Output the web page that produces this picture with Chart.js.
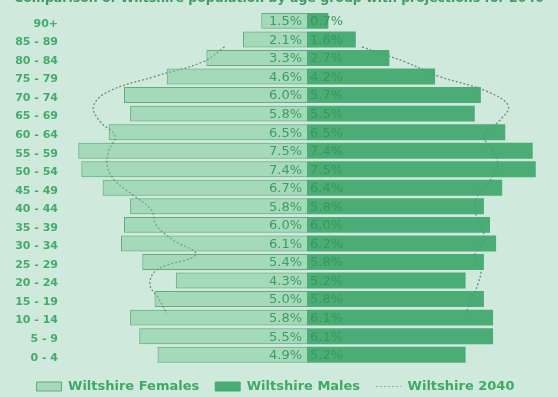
<!DOCTYPE html>
<html>
<head>
<meta charset="utf-8">
<script src="https://cdn.jsdelivr.net/npm/chart.js@4.4.1/dist/chart.umd.min.js"></script>
<style>
  html, body { margin: 0; padding: 0; background: #cfe9dc; }
  #wrap { width: 558px; height: 397px; position: relative; }
</style>
</head>
<body>
<div id="wrap"><canvas id="c"></canvas></div>
<script>
const titleText = 'Comparison of Wiltshire population by age group with projections for 2040';
const ageGroups = ['90+','85 - 89','80 - 84','75 - 79','70 - 74','65 - 69','60 - 64','55 - 59','50 - 54','45 - 49','40 - 44','35 - 39','30 - 34','25 - 29','20 - 24','15 - 19','10 - 14','5 - 9','0 - 4'];
const femalesPct = [1.5,2.1,3.3,4.6,6.0,5.8,6.5,7.5,7.4,6.7,5.8,6.0,6.1,5.4,4.3,5.0,5.8,5.5,4.9];
const malesPct   = [0.7,1.6,2.7,4.2,5.7,5.5,6.5,7.4,7.5,6.4,5.8,6.0,6.2,5.8,5.2,5.8,6.1,6.1,5.2];
const females2040 = [2.7,3.4,5.0,6.5,7.0,6.8,6.3,6.5,6.55,6.3,5.7,5.1,4.95,4.4,3.65,4.9,5.15,4.85,4.6];
const males2040   = [1.8,3.2,4.35,5.9,6.6,6.3,5.8,6.1,6.25,6.0,5.6,5.5,5.7,5.8,5.5,5.7,5.6,5.4,5.2];
const seriesNames = ['Wiltshire Females','Wiltshire Males','Wiltshire 2040'];

const FONT = "'DejaVu Sans', sans-serif";
const labelGreen = '#45ab6a';

const femaleData = femalesPct.map(v => -v);
const maleData = malesPct.map(v => v);
const f2040 = females2040.map((v, i) => ({ x: -v, y: i - 0.5 }));
const m2040 = males2040.map((v, i) => ({ x: v, y: i - 0.5 }));

const valueLabels = {
  id: 'valueLabels',
  afterDatasetsDraw(chart) {
    const ctx = chart.ctx;
    ctx.save();
    ctx.font = "13px " + FONT;
    ctx.textBaseline = 'middle';
    const fm = chart.getDatasetMeta(0);
    fm.data.forEach((el, i) => {
      ctx.fillStyle = '#3f9c62';
      ctx.textAlign = 'right';
      ctx.fillText(femalesPct[i].toFixed(1) + '%', el.base - 5, el.y + 1);
    });
    const mm = chart.getDatasetMeta(1);
    mm.data.forEach((el, i) => {
      ctx.fillStyle = '#36995c';
      ctx.textAlign = 'left';
      ctx.fillText(malesPct[i].toFixed(1) + '%', el.base + 3, el.y + 1);
    });
    ctx.restore();
  }
};

const titlePlugin = {
  id: 'cutTitle',
  afterDraw(chart) {
    const ctx = chart.ctx;
    ctx.save();
    let size = 13;
    ctx.font = "bold " + size + "px " + FONT;
    const w = ctx.measureText(titleText).width;
    size = Math.min(14, size * 530 / w);
    ctx.font = "bold " + size.toFixed(1) + "px " + FONT;
    ctx.fillStyle = '#3f9c62';
    ctx.textAlign = 'center';
    ctx.textBaseline = 'alphabetic';
    ctx.fillText(titleText, 279, 2);
    ctx.restore();
  }
};

const legendFix = {
  id: 'legendFix',
  beforeUpdate(chart) {
    const lg = chart.legend;
    if (lg && !lg._patched) {
      const orig = lg.fit;
      lg.fit = function () { orig.call(this); this.height = 33; };
      lg._patched = true;
    }
  }
};

new Chart(document.getElementById('c'), {
  type: 'bar',
  data: {
    labels: ageGroups,
    datasets: [
      {
        label: seriesNames[0],
        data: femaleData,
        backgroundColor: 'rgba(110,200,145,0.45)',
        borderColor: 'rgba(80,160,110,0.85)',
        borderWidth: 1,
        grouped: false,
        barPercentage: 0.86,
        categoryPercentage: 1,
        order: 0
      },
      {
        label: seriesNames[1],
        data: maleData,
        backgroundColor: 'rgba(60,165,105,0.9)',
        borderColor: 'rgba(60,165,105,0.9)',
        borderWidth: 0,
        grouped: false,
        barPercentage: 0.86,
        categoryPercentage: 1,
        order: 1
      },
      {
        type: 'line',
        label: seriesNames[2],
        data: f2040,
        yAxisID: 'yl',
        borderColor: '#6f8d85',
        backgroundColor: '#6f8d85',
        borderWidth: 1.3,
        borderDash: [2, 2],
        pointRadius: 0,
        tension: 0.4,
        fill: false,
        order: 2
      },
      {
        type: 'line',
        label: seriesNames[2] + ' M',
        data: m2040,
        yAxisID: 'yl',
        borderColor: '#6f8d85',
        backgroundColor: '#6f8d85',
        borderWidth: 1.3,
        borderDash: [2, 2],
        pointRadius: 0,
        tension: 0.4,
        fill: false,
        order: 3
      }
    ]
  },
  options: {
    indexAxis: 'y',
    responsive: true,
    maintainAspectRatio: false,
    animation: false,
    layout: { padding: { top: 5, right: 7, left: 0, bottom: 0 } },
    scales: {
      x: {
        display: false,
        min: -8, max: 8,
        stacked: false
      },
      y: {
        stacked: true,
        grid: { display: false, drawTicks: false },
        border: { display: false },
        ticks: {
          color: labelGreen,
          font: { family: FONT, size: 11, weight: 'bold' },
          padding: 5,
          labelOffset: 3
        },
        afterFit(scale) { scale.width = 63; }
      },
      yl: {
        type: 'linear',
        display: false,
        min: -0.5, max: 18.5,
        reverse: true
      }
    },
    plugins: {
      tooltip: { enabled: false },
      legend: {
        position: 'bottom',
        labels: {
          usePointStyle: true,
          pointStyleWidth: 25,
          boxHeight: 9,
          padding: 16,
          color: '#3eaa66',
          font: { family: FONT, size: 13, weight: 'bold' },
          filter: (item) => item.datasetIndex < 3,
          generateLabels(chart) {
            const items = Chart.defaults.plugins.legend.labels.generateLabels(chart);
            items.forEach(it => {
              if (it.datasetIndex === 2) {
                it.pointStyle = 'line';
                it.strokeStyle = '#8fa89f';
                it.lineWidth = 1;
                it.lineDash = [2, 2];
              } else {
                it.pointStyle = 'rect';
                it.lineWidth = 1;
              }
            });
            return items;
          }
        }
      }
    }
  },
  plugins: [valueLabels, titlePlugin, legendFix]
});
</script>
</body>
</html>
